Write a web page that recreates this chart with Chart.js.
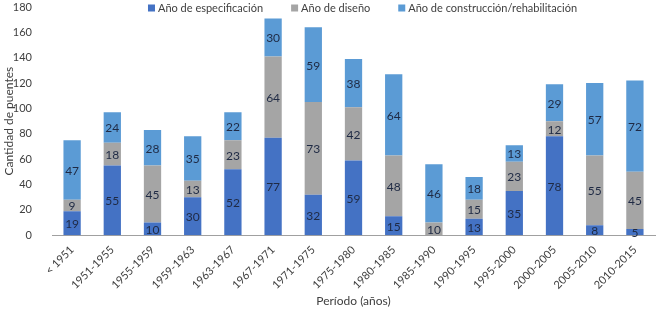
<!DOCTYPE html>
<html>
<head>
<meta charset="utf-8">
<script src="https://cdn.jsdelivr.net/npm/chart.js@4"></script>
<style>
  html, body { margin: 0; padding: 0; background: #fff; }
  #wrap { width: 661px; height: 311px; }
</style>
</head>
<body>
<div id="wrap"><canvas id="puentesChart"></canvas></div>
<script>
const periodos = ['< 1951', '1951-1955', '1955-1959', '1959-1963', '1963-1967', '1967-1971', '1971-1975',
  '1975-1980', '1980-1985', '1985-1990', '1990-1995', '1995-2000', '2000-2005', '2005-2010', '2010-2015'];
const especificacion = [19, 55, 10, 30, 52, 77, 32, 59, 15, 0, 13, 35, 78, 8, 5];
const diseno = [9, 18, 45, 13, 23, 64, 73, 42, 48, 10, 15, 23, 12, 55, 45];
const construccion = [47, 24, 28, 35, 22, 30, 59, 38, 64, 46, 18, 13, 29, 57, 72];
const yTicks = [0, 20, 40, 60, 80, 100, 120, 140, 160, 180];

const fontFamily = 'Lato, "Open Sans", sans-serif';

// value labels in the middle of each segment
const segmentLabels = {
  id: 'segmentLabels',
  afterDatasetsDraw(chart) {
    const ctx = chart.ctx;
    ctx.save();
    ctx.font = '12px ' + fontFamily;
    ctx.textAlign = 'center';
    ctx.textBaseline = 'middle';
    chart.data.datasets.forEach(function (ds, i) {
      const meta = chart.getDatasetMeta(i);
      meta.data.forEach(function (bar, j) {
        const v = ds.data[j];
        if (!v) return;
        const p = bar.getCenterPoint();
        ctx.fillStyle = '#1f2a44';
        ctx.fillText(String(v), p.x, p.y + 1);
      });
    });
    ctx.restore();
  }
};

// legend drawn over the top of the plot, like the original
const topLegend = {
  id: 'topLegend',
  afterDraw(chart) {
    const ctx = chart.ctx;
    const area = chart.chartArea;
    const box = 7, gap = 3, spacing = 28;
    ctx.save();
    ctx.font = '11px ' + fontFamily;
    ctx.textBaseline = 'middle';
    const items = chart.data.datasets.map(function (ds) {
      return { text: ds.label, color: ds.backgroundColor, w: box + gap + ctx.measureText(ds.label).width };
    });
    const total = items.reduce(function (s, it) { return s + it.w; }, 0) + spacing * (items.length - 1);
    let x = (area.left + area.right) / 2 - total / 2 + 9;
    const y = 8;
    items.forEach(function (it) {
      ctx.fillStyle = it.color;
      ctx.fillRect(x, y - box / 2, box, box);
      ctx.fillStyle = '#404040';
      ctx.textAlign = 'left';
      ctx.fillText(it.text, x + box + gap, y);
      x += it.w + spacing;
    });
    ctx.restore();
  }
};

const el = document.getElementById('puentesChart');
new Chart(el.getContext('2d'), {
  type: 'bar',
  data: {
    labels: periodos,
    datasets: [
      { label: 'Año de especificación', data: especificacion, backgroundColor: '#4472C4' },
      { label: 'Año de diseño', data: diseno, backgroundColor: '#A5A5A5' },
      { label: 'Año de construcción/rehabilitación', data: construccion, backgroundColor: '#5B9BD5' }
    ]
  },
  options: {
    responsive: true,
    maintainAspectRatio: false,
    animation: false,
    layout: { padding: { top: 2, right: 6, left: 0, bottom: 3 } },
    datasets: { bar: { barPercentage: 0.43, categoryPercentage: 1 } },
    plugins: {
      legend: { display: false },
      tooltip: { enabled: false }
    },
    scales: {
      x: {
        stacked: true,
        grid: { display: false },
        border: { display: true, color: '#a0a0a0' },
        ticks: {
          minRotation: 45,
          maxRotation: 45,
          padding: 0,
          color: '#404040',
          font: { family: fontFamily, size: 11 }
        },
        title: {
          display: true,
          text: 'Período (años)',
          color: '#404040',
          font: { family: fontFamily, size: 12 },
          padding: { top: 2, bottom: 0 }
        }
      },
      y: {
        stacked: true,
        min: 0,
        max: 180,
        grid: { display: false },
        border: { display: false },
        afterBuildTicks: function (axis) {
          axis.ticks = yTicks.map(function (v) { return { value: v }; });
        },
        afterFit: function (axis) {
          axis.width = 52;
          axis.paddingTop = 7;
        },
        ticks: {
          color: '#404040',
          padding: 12,
          font: { family: fontFamily, size: 11 }
        },
        title: {
          display: true,
          text: 'Cantidad de puentes',
          color: '#404040',
          font: { family: fontFamily, size: 12 },
          padding: { top: 2, bottom: 2 }
        }
      }
    }
  },
  plugins: [segmentLabels, topLegend]
});
</script>
</body>
</html>
